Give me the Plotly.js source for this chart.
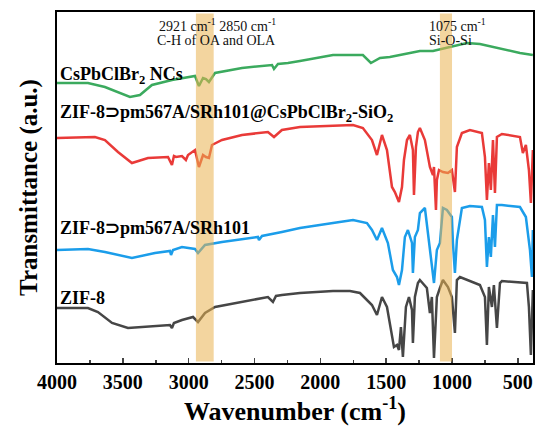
<!DOCTYPE html>
<html>
<head>
<meta charset="utf-8">
<script src="https://cdn.plot.ly/plotly-3.0.1.min.js"></script>
<style>html,body{margin:0;padding:0;background:#fff;}#chart{width:537px;height:434px;}</style>
</head>
<body>
<div id="chart"></div>
<script>
// Wavenumbers (cm-1) and transmittance (a.u., offset stacked)
const greenX = [4000,3765,3636,3537,3446,3370,3279,3127,2952,2922,2891,2869,2846,2800,2595,2367,2352,2322,2246,2155,1904,1677,1616,1547,1472,1396,1244,1145,1016,887,788,613,484,386];
const greenY = [280,280,276,271,266,268,278,283,287,277,285,284,281,290,295,298,294,299,300,302,308,308,300,305,306,308,312,312,316,320,319,314,310,308];

const redX = [4000,3712,3636,3537,3431,3309,3157,3127,3112,3096,3051,3021,3005,2952,2922,2891,2869,2846,2823,2747,2595,2398,2352,2292,2155,1904,1752,1677,1608,1570,1547,1532,1494,1456,1434,1418,1403,1380,1365,1342,1320,1297,1289,1274,1259,1244,1206,1168,1145,1137,1122,1115,1099,1069,1031,1001,978,963,925,864,773,750,735,720,705,689,674,659,621,484,462,439,416,401,386];
const redY = [225,226,223,211,200,205,206,198,207,206,207,203,208,213,196,208,206,205,218,223,228,231,226,233,236,237,238,235,223,208,220,228,213,176,171,166,161,176,203,223,228,213,168,216,231,235,223,196,188,196,153,183,193,191,190,193,171,216,230,233,230,206,163,200,173,223,170,226,229,226,210,218,193,160,213];

const blueX = [4000,3765,3636,3431,3256,3142,3134,3119,3051,2952,2929,2876,2747,2595,2474,2466,2443,2292,2155,1904,1752,1646,1608,1570,1532,1487,1449,1418,1403,1380,1358,1335,1304,1297,1282,1259,1244,1206,1168,1137,1115,1092,1069,1039,1001,993,978,963,925,864,773,750,735,720,705,689,674,659,621,484,439,408,393,386];
const blueY = [113,114,111,105,110,112,108,113,116,114,110,118,121,124,126,123,127,131,135,140,143,140,133,123,135,120,93,86,78,93,126,133,120,90,126,133,150,155,116,80,113,120,155,153,146,120,90,123,155,157,156,143,96,126,106,148,116,158,158,156,146,113,86,133];

const zifX = [4000,3765,3689,3582,3461,3256,3142,3127,3112,3051,2967,2929,2876,2800,2595,2398,2360,2337,2292,2155,1904,1775,1699,1608,1570,1532,1494,1456,1441,1418,1403,1388,1373,1350,1327,1304,1297,1282,1259,1244,1191,1168,1153,1137,1115,1092,1069,1031,1001,978,963,940,841,788,750,735,720,697,682,659,636,621,431,416,401,386];
const zifY = [55,55,51,40,35,37,38,35,40,43,46,41,50,56,61,66,61,67,68,70,72,72,70,58,48,66,56,30,16,18,13,36,6,56,66,53,20,66,80,83,75,50,66,5,66,75,83,76,66,30,83,86,81,78,66,18,76,56,78,35,80,82,80,56,8,73];

const seriesNames = ["CsPbClBr<sub>2</sub> NCs", "ZIF-8⊃pm567A/SRh101@CsPbClBr<sub>2</sub>-SiO<sub>2</sub>", "ZIF-8⊃pm567A/SRh101", "ZIF-8"];
const labelY = [288, 250, 135, 65];
const xTicks = [4000,3500,3000,2500,2000,1500,1000,500];
const bands = [[2945,2810],[1092,1000]];

const serif = "Liberation Serif, Times New Roman, serif";
function tr(x, y, c, name){
  return {x:x, y:y, type:'scatter', mode:'lines', name:name, line:{color:c, width:2.5}, showlegend:false, hoverinfo:'skip'};
}
const data = [
  tr(greenX, greenY, '#3BAA5E', seriesNames[0]),
  tr(redX, redY, '#E93A38', seriesNames[1]),
  tr(blueX, blueY, '#1B9DEA', seriesNames[2]),
  tr(zifX, zifY, '#464646', seriesNames[3])
];

const annotations = seriesNames.map((t,i)=>({
  x:3995, y:labelY[i], xref:'x', yref:'y', text:t, showarrow:false, xanchor:'left', yanchor:'middle',
  font:{family:serif, size:18, color:'#000', weight:'bold'}
}));
const small = {family:serif, size:14, color:'#111'};
annotations.push(
  {x:3241, y:338, xref:'x', yref:'y', text:'2921 cm<sup>-1</sup> 2850 cm<sup>-1</sup>', showarrow:false, xanchor:'left', yanchor:'middle', font:small},
  {x:3256, y:323, xref:'x', yref:'y', text:'C-H of OA and OLA', showarrow:false, xanchor:'left', yanchor:'middle', font:small},
  {x:1191, y:338, xref:'x', yref:'y', text:'1075 cm<sup>-1</sup>', showarrow:false, xanchor:'left', yanchor:'middle', font:small},
  {x:1191, y:323, xref:'x', yref:'y', text:'Si-O-Si', showarrow:false, xanchor:'left', yanchor:'middle', font:small}
);

const shapes = bands.map(b=>({type:'rect', xref:'x', yref:'paper', x0:b[0], x1:b[1], y0:0.004, y1:0.996,
  fillcolor:'rgb(233,178,80)', opacity:0.55, line:{width:0}, layer:'above'}));

const layout = {
  width:537, height:434,
  margin:{l:57, r:4, t:12, b:71},
  paper_bgcolor:'#fff', plot_bgcolor:'#fff',
  font:{family:serif, color:'#000'},
  xaxis:{range:[4000,385], tickvals:xTicks, ticktext:xTicks.map(String), ticks:'inside', ticklen:5, tickwidth:1.5,
    minor:{ticks:'inside', dtick:250, tick0:4000, ticklen:3, tickwidth:1.5},
    showline:true, linewidth:2, linecolor:'#000', mirror:true, showgrid:false, zeroline:false,
    tickfont:{family:serif, size:20, weight:'bold'},
    title:{text:'Wavenumber (cm<sup>-1</sup>)', font:{family:serif, size:26, weight:'bold'}, standoff:8}},
  yaxis:{range:[0,351], showticklabels:false, ticks:'', showline:true, linewidth:2, linecolor:'#000', mirror:true,
    showgrid:false, zeroline:false,
    title:{text:'Transmittance (a.u.)', font:{family:serif, size:25, weight:'bold'}, standoff:10}},
  annotations:annotations, shapes:shapes
};
Plotly.newPlot('chart', data, layout, {displayModeBar:false, staticPlot:true});
</script>
</body>
</html>
